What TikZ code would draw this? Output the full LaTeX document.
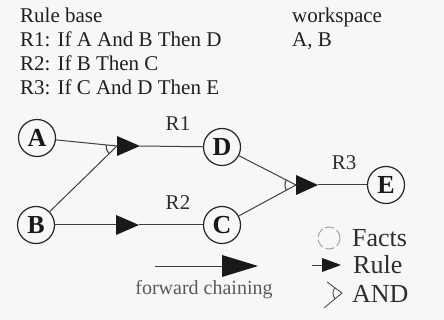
\documentclass[tikz,border=0pt]{standalone}
\usepackage{fontspec}
\setmainfont{Liberation Serif}
\begin{document}
\begin{tikzpicture}[x=1pt,y=-1pt,
  fact/.style={circle,draw=black!85,line width=1.2pt,minimum size=37pt,inner sep=0pt,
    font=\fontsize{26}{26}\selectfont\bfseries,text=black!90},
  conn/.style={draw=black!75,line width=1pt},
  head/.style={anchor=base west,inner sep=0pt,font=\fontsize{21}{21}\selectfont,text=black!88},
  lab/.style={anchor=base,inner sep=0pt,font=\fontsize{21}{21}\selectfont,text=black!82},
  leg/.style={anchor=base west,inner sep=0pt,font=\fontsize{26}{26}\selectfont,text=black!82},
  tip/.style={fill=black!90}]
\fill[black!3] (0,0) rectangle (444,320);
\useasboundingbox (0,0) rectangle (444,320);
% header
\node[head] (h0) at (20,23) {Rule base};
\node[head] (h1) at (20,47) {R1: If A And B Then D};
\node[head] (h2) at (20,71) {R2: If B Then C};
\node[head] (h3) at (20,95) {R3: If C And D Then E};
\node[head] (w0) at (292,23) {workspace};
\node[head] (w1) at (292,47) {A, B};
% facts
\node[fact] (A) at (37,138) {A};
\node[fact] (B) at (36,225) {B};
\node[fact] (D) at (222,147) {D};
\node[fact] (C) at (222,225) {C};
\node[fact] (E) at (386,185) {E};
% rule R1
\coordinate (j1) at (117,146);
\coordinate (t1) at (140,146);
\draw[conn] (A) -- (j1);
\draw[conn] (B) -- (j1);
\draw[conn] (t1) -- (D);
\fill[tip] (j1) -- ++(0,-10) -- (t1) -- ++(-23,10) -- cycle;
\draw[conn,line width=1.1pt] ([shift={(174:11pt)}]j1) arc[start angle=174,end angle=224,radius=11pt];
\node[lab] (r1) at (178,131) {R1};
% rule R2
\coordinate (j2) at (116,225);
\coordinate (t2) at (139,225);
\draw[conn] (B) -- (j2);
\draw[conn] (t2) -- (C);
\fill[tip] (j2) -- ++(0,-10) -- (t2) -- ++(-23,10) -- cycle;
\node[lab] (r2) at (178,210) {R2};
% rule R3
\coordinate (j3) at (296,185);
\coordinate (t3) at (318,185);
\draw[conn] (D) -- (j3);
\draw[conn] (C) -- (j3);
\draw[conn] (t3) -- (E);
\fill[tip] (j3) -- ++(0,-10) -- (t3) -- ++(-22,10) -- cycle;
\draw[conn,line width=1.1pt] ([shift={(153:11pt)}]j3) arc[start angle=153,end angle=208,radius=11pt];
\node[lab] (r3) at (344,170) {R3};
% forward chaining
\coordinate (f0) at (155,266);
\coordinate (f1) at (222,266);
\coordinate (f2) at (258,266);
\draw[conn] (f0) -- (f1);
\fill[tip] (f1) -- ++(0,-11) -- (f2) -- ++(-36,11) -- cycle;
\node[anchor=base,inner sep=0pt,font=\fontsize{20}{20}\selectfont,text=black!65] (fc) at (204,294) {forward chaining};
% legend
\node[circle,draw=black!35,line width=1pt,dash pattern=on 9pt off 3pt,minimum size=22pt,inner sep=0pt] (lf) at (329,238) {};
\node[leg] (tf) at (352,247) {Facts};
\coordinate (lr0) at (312,265);
\coordinate (lr1) at (322,265);
\coordinate (lr2) at (341,265);
\draw[conn] (lr0) -- (lr1);
\fill[tip] (lr1) -- ++(0,-7) -- (lr2) -- ++(-19,7) -- cycle;
\node[leg] (tr) at (353,273) {Rule};
\coordinate (la0) at (327,282);
\coordinate (la1) at (342,293);
\coordinate (la2) at (324,308);
\draw[conn,line width=0.8pt] (la0) -- (la1) -- (la2);
\draw[conn,line width=0.8pt] ([shift={(144:9pt)}]la1) arc[start angle=144,end angle=220,radius=9pt];
\node[leg] (ta) at (352,302) {AND};
\end{tikzpicture}
\end{document}
